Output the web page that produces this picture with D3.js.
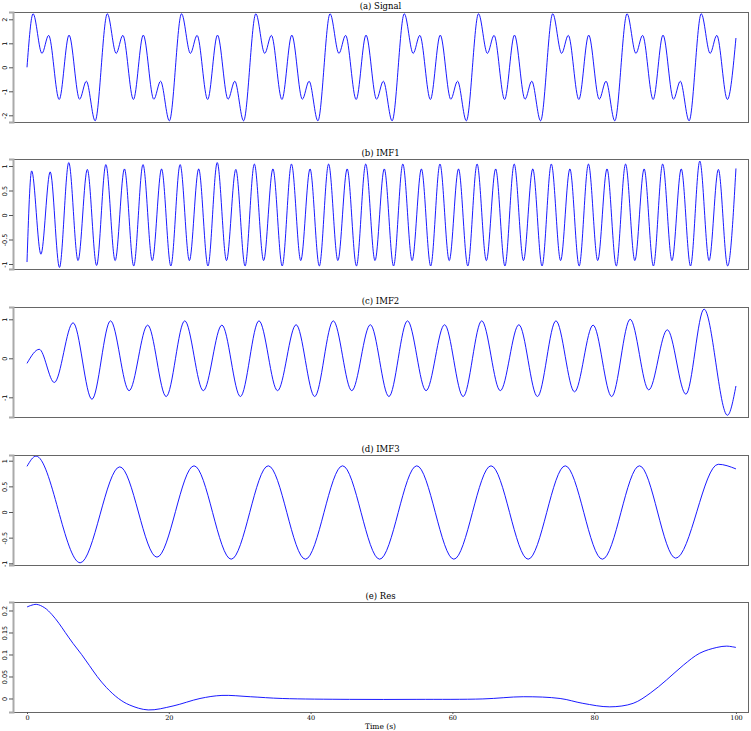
<!DOCTYPE html>
<html><head><meta charset="utf-8">
<script src="https://cdn.jsdelivr.net/npm/d3@7"></script>
<style>body{margin:0;background:#fff}svg{display:block}</style>
</head><body>
<svg id="chart" width="751" height="731"></svg>
<script>
// ---------------- data ----------------
const sigT = [0,0.86,2.11,3.05,4.54,5.93,7.42,8.37,9.61,
 11.33,12.58,13.52,15.01,16.40,17.89,18.84,20.08,
 21.80,23.05,23.99,25.48,26.87,28.36,29.31,30.55,
 32.28,33.53,34.47,35.96,37.35,38.84,39.79,41.03,
 42.75,44.00,44.94,46.43,47.82,49.31,50.26,51.50,
 53.22,54.47,55.41,56.90,58.29,59.78,60.73,61.97,
 63.69,64.94,65.88,67.37,68.76,70.25,71.20,72.44,
 74.16,75.41,76.35,77.84,79.23,80.72,81.67,82.91,
 84.64,85.89,86.83,88.32,89.71,91.20,92.15,93.39,
 95.11,96.36,97.30,98.79,100];
const sigV = [0,2.23,0.58,1.33,-1.34,1.34,-1.33,-0.58,-2.23,
 2.23,0.58,1.33,-1.34,1.34,-1.33,-0.58,-2.23,
 2.23,0.58,1.33,-1.34,1.34,-1.33,-0.58,-2.23,
 2.23,0.58,1.33,-1.34,1.34,-1.33,-0.58,-2.23,
 2.23,0.58,1.33,-1.34,1.34,-1.33,-0.58,-2.23,
 2.23,0.58,1.33,-1.34,1.34,-1.33,-0.58,-2.23,
 2.23,0.58,1.33,-1.34,1.34,-1.33,-0.58,-2.23,
 2.23,0.58,1.33,-1.34,1.34,-1.33,-0.58,-2.23,
 2.23,0.58,1.33,-1.34,1.34,-1.33,-0.58,-2.23,
 2.23,0.58,1.33,-1.34,1.22];

const imf1T = [0,0.654,1.963,3.272,4.581,5.890,7.199,8.508,9.817,11.126,12.435,13.744,15.053,
 16.362,17.671,18.980,20.289,21.598,22.907,24.216,25.525,26.834,28.143,29.452,30.761,
 32.070,33.379,34.688,35.997,37.306,38.615,39.924,41.233,42.542,43.851,45.160,46.469,
 47.778,49.087,50.396,51.705,53.014,54.323,55.632,56.941,58.250,59.559,60.868,62.177,
 63.486,64.795,66.104,67.413,68.722,70.031,71.340,72.649,73.958,75.267,76.576,77.885,
 79.194,80.503,81.812,83.121,84.430,85.739,87.048,88.357,89.666,90.975,92.284,93.593,
 94.902,96.211,97.520,98.829,100];
const imf1V = [-0.96,0.90,-0.80,0.88,-1.07,1.07,-0.93,0.93,-1.03,1.03,-0.93,0.94,-1.04,
 1.03,-0.93,0.94,-1.04,1.03,-0.93,0.94,-1.04,1.07,-0.93,0.93,-1.04,
 1.04,-0.93,0.94,-1.04,1.04,-0.93,0.94,-1.04,1.04,-0.93,0.94,-1.04,
 1.04,-0.93,0.94,-1.04,1.04,-0.93,0.94,-1.04,1.04,-0.93,0.94,-1.04,
 1.04,-0.93,0.94,-1.04,1.04,-0.93,0.94,-1.04,1.04,-0.93,0.94,-1.04,
 1.04,-0.93,0.94,-1.04,1.04,-0.93,0.94,-1.04,1.04,-0.93,0.94,-1.04,
 1.10,-0.93,0.93,-1.04,0.95];

const imf2T = [0,1.73,3.85,6.50,9.16,11.78,14.40,17.02,19.63,22.25,24.87,27.49,30.10,
 32.72,35.34,37.96,40.58,43.20,45.81,48.43,51.05,53.67,56.29,58.90,61.52,64.14,66.76,
 69.38,72.00,74.61,77.23,79.85,82.47,85.08,87.70,90.32,92.94,95.50,98.80,100];
const imf2V = [-0.13,0.23,-0.62,0.91,-1.05,0.96,-0.83,0.85,-0.98,0.96,-0.83,0.85,-0.98,
 0.96,-0.83,0.86,-0.98,0.96,-0.83,0.86,-0.98,0.96,-0.83,0.86,-0.98,0.96,-0.83,
 0.86,-0.98,0.96,-0.86,0.85,-0.98,1.00,-0.81,0.73,-0.92,1.26,-1.46,-0.71];

const imf3T = [0,1.27,7.50,13.09,18.33,23.56,28.80,34.03,39.27,44.51,49.74,54.98,60.21,
 65.45,70.69,75.92,81.16,86.39,91.50,97.50,100];
const imf3V = [0.89,1.09,-0.99,0.88,-0.88,0.90,-0.92,0.90,-0.92,0.90,-0.92,0.90,-0.92,
 0.90,-0.92,0.90,-0.92,0.90,-0.90,0.93,0.84];

const resT = [0,1.3,2.5,3.5,4.5,5.4,6.5,7.7,8.8,9.9,11.2,12.9,14.5,17.1,20.6,24.4,27.5,31.5,
 36,45.5,55,64.3,70,75.2,78.4,82.2,85.5,87.9,90.2,92.6,94.9,97.3,98.7,100];
const resV = [0.208,0.214,0.206,0.191,0.171,0.150,0.125,0.100,0.075,0.050,0.025,0.0,-0.015,
 -0.026,-0.017,0.0,0.007,0.004,0.0,-0.002,-0.002,-0.001,0.004,0.0,-0.011,-0.019,-0.011,
 0.012,0.042,0.076,0.103,0.116,0.119,0.116];

const titles = ["(a) Signal","(b) IMF1","(c) IMF2","(d) IMF3","(e) Res"];
const yTicks = [[-2,-1,0,1,2],[-1,-0.5,0,0.5,1],[-1,0,1],[-1,-0.5,0,0.5,1],[0,0.05,0.1,0.15,0.2]];
const xTicks = [0,20,40,60,80,100];
const xLabel = "Time (s)";

// ---------------- layout ----------------
const svg = d3.select("#chart");
const left = 13, right = 748;
const x = d3.scaleLinear().domain([-1.975, 101.7]).range([left, right]);
const layout = [
  {top:12,  bottom:122, dom:[-2.279, 2.304]},
  {top:159, bottom:269, dom:[-1.102, 1.143]},
  {top:307, bottom:417, dom:[-1.505, 1.315]},
  {top:455, bottom:565, dom:[-1.033, 1.111]},
  {top:602, bottom:712, dom:[-0.0307, 0.2193]}
];
const series = [[sigT,sigV],[imf1T,imf1V],[imf2T,imf2V],[imf3T,imf3V],[resT,resV]];
const curves = [d3.curveMonotoneX, d3.curveMonotoneX, d3.curveMonotoneX, d3.curveMonotoneX,
                d3.curveCatmullRom.alpha(0.5)];
const fmt = d => String(d);

layout.forEach((L, i) => {
  const y = d3.scaleLinear().domain(L.dom).range([L.bottom, L.top]);
  const g = svg.append("g");
  const [T, V] = series[i];
  const pts = T.map((t, k) => [t, V[k]]);
  g.append("path")
    .attr("d", d3.line().x(d => x(d[0])).y(d => y(d[1])).curve(curves[i])(pts))
    .attr("fill", "none").attr("stroke", "#0000ff").attr("stroke-width", 0.9);
  g.append("rect").attr("x", left + 0.5).attr("y", L.top + 0.5)
    .attr("width", right - left).attr("height", L.bottom - L.top)
    .attr("fill", "none").attr("stroke", "#666").attr("stroke-width", 1);
  const ax = g.append("g").attr("transform", `translate(${left},0)`)
    .call(d3.axisLeft(y).tickValues(yTicks[i]).tickSize(4).tickFormat(fmt));
  ax.select(".domain").attr("stroke", "#aaa").attr("stroke-width", 2);
  ax.selectAll(".tick line").attr("stroke", "#555");
  ax.selectAll(".tick text")
    .attr("x", 0).attr("y", -6).attr("dy", 0)
    .attr("transform", "rotate(-90)")
    .attr("text-anchor", "middle")
    .attr("font-family", "DejaVu Sans").attr("font-size", 6.5).attr("fill", "#000");
  g.append("text").attr("x", (left + right) / 2).attr("y", L.top - 3)
    .attr("text-anchor", "middle").attr("font-family", "DejaVu Serif")
    .attr("font-size", 8.5).text(titles[i]);
  if (i === layout.length - 1) {
    const xa = g.append("g").attr("transform", `translate(0,${L.bottom})`)
      .call(d3.axisBottom(x).tickValues(xTicks).tickSize(2).tickFormat(d => String(d)));
    xa.select(".domain").remove();
    xa.selectAll(".tick line").attr("stroke", "#555");
    xa.selectAll(".tick text").attr("y", 3).attr("dy", "0.71em")
      .attr("font-family", "DejaVu Serif").attr("font-size", 6.5).attr("fill", "#000");
    g.append("text").attr("x", (left + right) / 2).attr("y", 729)
      .attr("text-anchor", "middle").attr("font-family", "DejaVu Serif")
      .attr("font-size", 7.5).text(xLabel);
  }
});
</script>
</body></html>
